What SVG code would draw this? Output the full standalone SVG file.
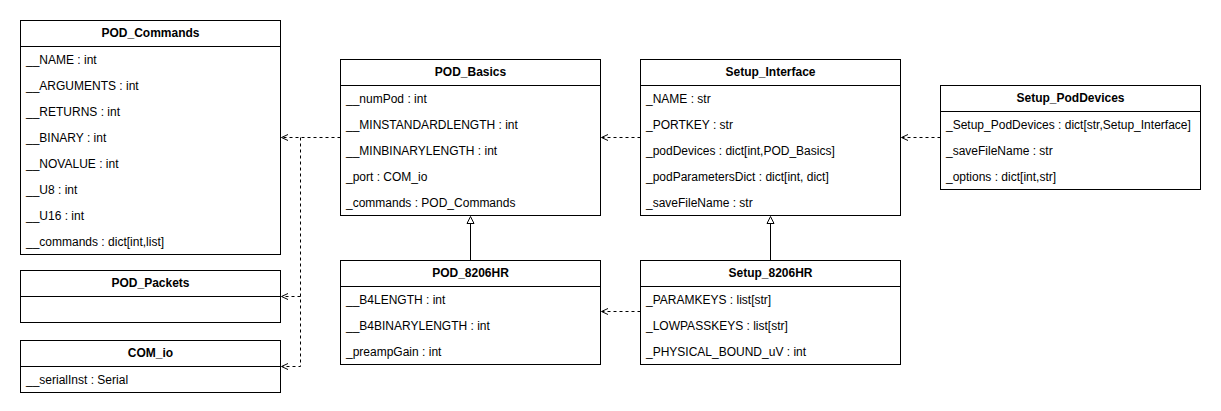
<svg xmlns="http://www.w3.org/2000/svg" width="1221" height="411" viewBox="0 0 1221 411">
<style>
.box{fill:#fff;stroke:#000;stroke-width:1}
.sep{stroke:#000;stroke-width:1}
text{font-family:"Liberation Sans",Arial,sans-serif;font-size:12px;fill:#000}
.h{font-weight:bold;text-anchor:middle}
.dash{fill:none;stroke:#000;stroke-width:1;stroke-dasharray:3 3}
.solid{fill:none;stroke:#000;stroke-width:1}
.open{fill:none;stroke:#000;stroke-width:1}
.tri{fill:#fff;stroke:#000;stroke-width:1}
</style>
<rect width="1221" height="411" fill="#fff"/>
<g id="POD_Commands">
<rect class="box" x="20.5" y="20.5" width="260" height="234"/>
<line class="sep" x1="20.5" y1="46.5" x2="280.5" y2="46.5"/>
<text class="h" x="150.5" y="37">POD_Commands</text>
<text x="26" y="64">__NAME : int</text>
<text x="26" y="90">__ARGUMENTS : int</text>
<text x="26" y="116">__RETURNS : int</text>
<text x="26" y="142">__BINARY : int</text>
<text x="26" y="168">__NOVALUE : int</text>
<text x="26" y="194">__U8 : int</text>
<text x="26" y="220">__U16 : int</text>
<text x="26" y="246">__commands : dict[int,list]</text>
</g>
<g id="POD_Packets">
<rect class="box" x="20.5" y="270.5" width="260" height="52"/>
<line class="sep" x1="20.5" y1="296.5" x2="280.5" y2="296.5"/>
<text class="h" x="150.5" y="287">POD_Packets</text>
</g>
<g id="COM_io">
<rect class="box" x="20.5" y="340.5" width="260" height="52"/>
<line class="sep" x1="20.5" y1="366.5" x2="280.5" y2="366.5"/>
<text class="h" x="150.5" y="357">COM_io</text>
<text x="26" y="384">__serialInst : Serial</text>
</g>
<g id="POD_Basics">
<rect class="box" x="340.5" y="59.5" width="260" height="156"/>
<line class="sep" x1="340.5" y1="85.5" x2="600.5" y2="85.5"/>
<text class="h" x="470.5" y="76">POD_Basics</text>
<text x="346" y="103">__numPod : int</text>
<text x="346" y="129">__MINSTANDARDLENGTH : int</text>
<text x="346" y="155">__MINBINARYLENGTH : int</text>
<text x="346" y="181">_port : COM_io</text>
<text x="346" y="207">_commands : POD_Commands</text>
</g>
<g id="POD_8206HR">
<rect class="box" x="340.5" y="260.5" width="260" height="104"/>
<line class="sep" x1="340.5" y1="286.5" x2="600.5" y2="286.5"/>
<text class="h" x="470.5" y="277">POD_8206HR</text>
<text x="346" y="304">__B4LENGTH : int</text>
<text x="346" y="330">__B4BINARYLENGTH : int</text>
<text x="346" y="356">_preampGain : int</text>
</g>
<g id="Setup_Interface">
<rect class="box" x="640.5" y="59.5" width="260" height="156"/>
<line class="sep" x1="640.5" y1="85.5" x2="900.5" y2="85.5"/>
<text class="h" x="770.5" y="76">Setup_Interface</text>
<text x="646" y="103">_NAME : str</text>
<text x="646" y="129">_PORTKEY : str</text>
<text x="646" y="155">_podDevices : dict[int,POD_Basics]</text>
<text x="646" y="181">_podParametersDict : dict[int, dict]</text>
<text x="646" y="207">_saveFileName : str</text>
</g>
<g id="Setup_8206HR">
<rect class="box" x="640.5" y="260.5" width="260" height="104"/>
<line class="sep" x1="640.5" y1="286.5" x2="900.5" y2="286.5"/>
<text class="h" x="770.5" y="277">Setup_8206HR</text>
<text x="646" y="304">_PARAMKEYS : list[str]</text>
<text x="646" y="330">_LOWPASSKEYS : list[str]</text>
<text x="646" y="356">_PHYSICAL_BOUND_uV : int</text>
</g>
<g id="Setup_PodDevices">
<rect class="box" x="940.5" y="85.5" width="260" height="104"/>
<line class="sep" x1="940.5" y1="111.5" x2="1200.5" y2="111.5"/>
<text class="h" x="1070.5" y="102">Setup_PodDevices</text>
<text x="946" y="129">_Setup_PodDevices : dict[str,Setup_Interface]</text>
<text x="946" y="155">_saveFileName : str</text>
<text x="946" y="181">_options : dict[int,str]</text>
</g>
<g id="connectors">
<path class="dash" d="M340.5 137.5 H282"/>
<path class="dash" d="M300.5 137.5 V366.5 H282"/>
<path class="dash" d="M300.5 296.5 H282"/>
<path class="open" d="M288 134.5 L281.5 137.5 L288 140.5"/>
<path class="open" d="M288 293.5 L281.5 296.5 L288 299.5"/>
<path class="open" d="M288 363.5 L281.5 366.5 L288 369.5"/>
<path class="dash" d="M640.5 137.5 H602"/>
<path class="open" d="M608 134.5 L601.5 137.5 L608 140.5"/>
<path class="dash" d="M640.5 311.5 H602"/>
<path class="open" d="M608 308.5 L601.5 311.5 L608 314.5"/>
<path class="dash" d="M940.5 137.5 H902"/>
<path class="open" d="M908 134.5 L901.5 137.5 L908 140.5"/>
<path class="solid" d="M470.5 260.5 V223"/>
<path class="tri" d="M470.5 216.5 L474 223.5 L467 223.5 Z"/>
<path class="solid" d="M770.5 260.5 V223"/>
<path class="tri" d="M770.5 216.5 L774 223.5 L767 223.5 Z"/>
</g>
</svg>
